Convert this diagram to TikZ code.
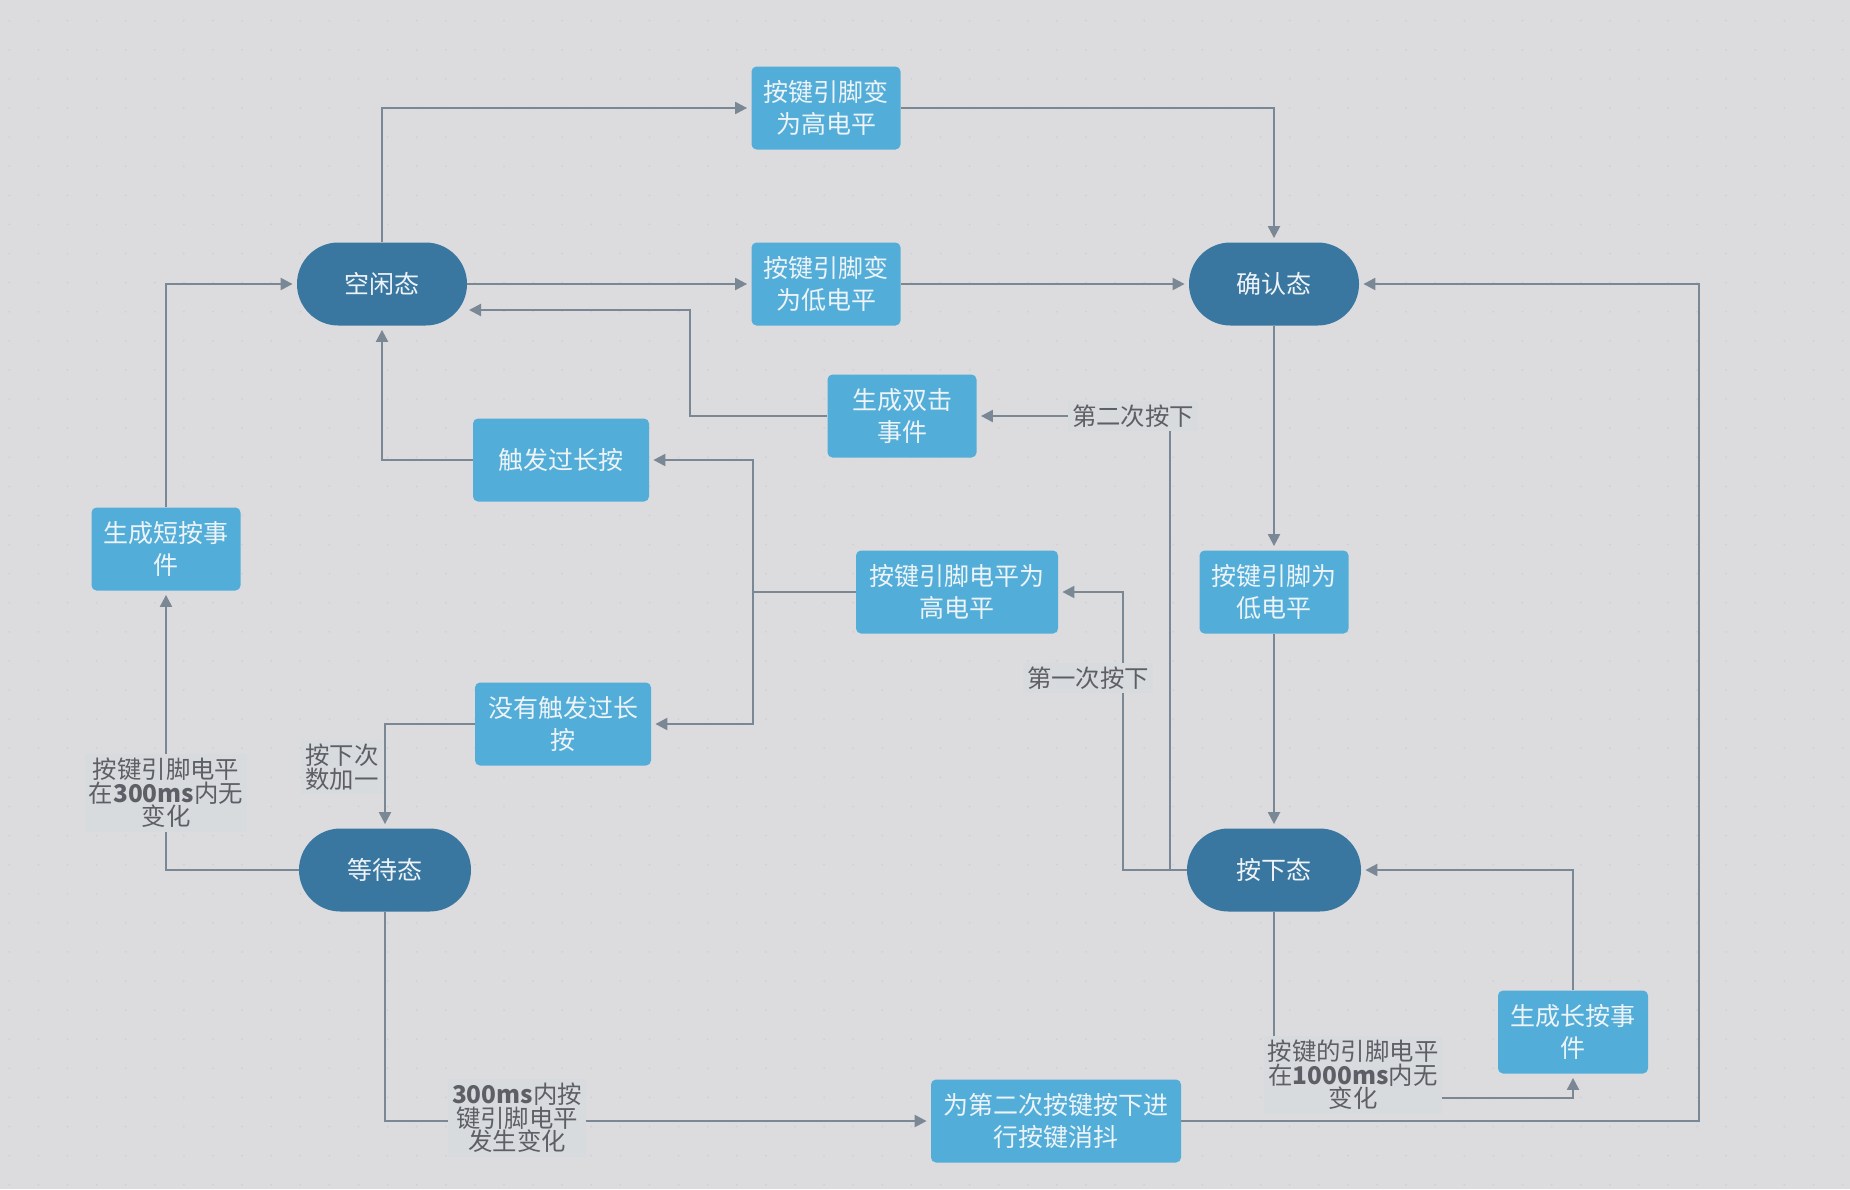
\documentclass[tikz,border=0pt]{standalone}
\usepackage{fontspec}
\setmainfont{Noto Sans CJK SC}
\usetikzlibrary{arrows.meta,positioning}

\definecolor{bgc}{HTML}{DCDCDF}
\definecolor{dotc}{HTML}{D0D0D4}
\definecolor{stc}{HTML}{3A77A0}
\definecolor{prc}{HTML}{52AED9}
\definecolor{txc}{HTML}{EEF3F7}
\definecolor{lnc}{HTML}{7A8896}
\definecolor{lbc}{HTML}{D8DBDE}
\definecolor{lbt}{HTML}{5E5F66}

\tikzset{
  state/.style={fill=stc,rounded corners=20.7pt,minimum width=85pt,minimum height=41.5pt,
    text=txc,font=\fontsize{12.5}{16}\selectfont},
  proc/.style={fill=prc,rounded corners=2.5pt,minimum width=74.5pt,minimum height=41.5pt,
    text=txc,align=center,font=\fontsize{12.5}{16}\selectfont},
  lbl/.style={fill=lbc,text=lbt,align=center,inner sep=2pt,
    font=\fontsize{12.2}{11.8}\selectfont},
  wire/.style={draw=lnc,line width=1.1pt},
  arr/.style={wire,-{Triangle[length=6pt,width=6pt]},shorten >=2pt}
}

\begin{document}
\begin{tikzpicture}[x=0.5pt,y=-0.5pt]
  \fill[bgc] (0,0) rectangle (1850,1189);
  \useasboundingbox (0,0) rectangle (1850,1189);
  \foreach \i in {0,...,63}
    \foreach \j in {0,...,40}
      \fill[dotc] (9.3+29.1*\i,20.7+29.1*\j) circle (0.5pt);

  % states
  \node[state] (kongxian) at (382,284) {空闲态};
  \node[state] (queren) at (1274,284) {确认态};
  \node[state,minimum width=87pt] (anxia) at (1274,870) {按下态};
  \node[state,minimum width=86pt] (dengdai) at (385,870) {等待态};

  % actions
  \node[proc] (gaodian) at (826,108) {按键引脚变\\为高电平};
  \node[proc] (didian) at (826,284) {按键引脚变\\为低电平};
  \node[proc] (shuangji) at (902,416) {生成双击\\事件};
  \node[proc,minimum width=88pt] (guochang) at (561,460) {触发过长按};
  \node[proc] (duanan) at (166,549) {生成短按事\\件};
  \node[proc,minimum width=101pt] (gaoping) at (957,592) {按键引脚电平为\\高电平};
  \node[proc] (diping) at (1274,592) {按键引脚为\\低电平};
  \node[proc,minimum width=88pt] (meiyou) at (563,724) {没有触发过长\\按};
  \node[proc,minimum width=75pt] (changan) at (1573,1032) {生成长按事\\件};
  \node[proc,minimum width=125pt] (xiaodou) at (1056,1121) {为第二次按键按下进\\行按键消抖};

  \coordinate (fork) at (753,592);
  \coordinate (kxin) at (465,310);

  % connectors
  \draw[arr] (kongxian.north) |- (gaodian.west);
  \draw[arr] (gaodian.east) -| (queren.north);
  \draw[arr] (kongxian.east) -- (didian.west);
  \draw[arr] (didian.east) -- (queren.west);
  \draw[arr] (queren.south) -- (diping.north);
  \draw[arr] (diping.south) -- (anxia.north);
  \draw[arr] (anxia.west) -- (1123,870) |- (gaoping.east);
  \draw[arr] (anxia.west) -- (1170,870) |- (shuangji.east);
  \draw[wire] (gaoping.west) -- (fork);
  \draw[arr] (fork) |- (guochang.east);
  \draw[arr] (fork) |- (meiyou.east);
  \draw[arr] (shuangji.west) -- (690,416) |- (kxin);
  \draw[arr] (guochang.west) -| (kongxian.south);
  \draw[arr] (meiyou.west) -| (dengdai.north);
  \draw[arr] (dengdai.west) -| (duanan.south);
  \draw[arr] (duanan.north) |- (kongxian.west);
  \draw[arr] (dengdai.south) |- (xiaodou.west);
  \draw[arr] (xiaodou.east) -- (1699,1121) |- (queren.east);
  \draw[arr] (anxia.south) -- (1274,1098) -| (changan.south);
  \draw[arr] (changan.north) |- (anxia.east);

  % labels
  \node[lbl] (lab1) at (1088,678) {第一次按下};
  \node[lbl] (lab2) at (1133,416) {第二次按下};
  \node[lbl] (lab3) at (342,767) {按下次\\数加一};
  \node[lbl] (lab4) at (166,793) {按键引脚电平\\在\textbf{300ms}内无\\变化};
  \node[lbl] (lab5) at (517,1118) {\textbf{300ms}内按\\键引脚电平\\发生变化};
  \node[lbl] (lab6) at (1353,1075) {按键的引脚电平\\在\textbf{1000ms}内无\\变化};
\end{tikzpicture}
\end{document}
